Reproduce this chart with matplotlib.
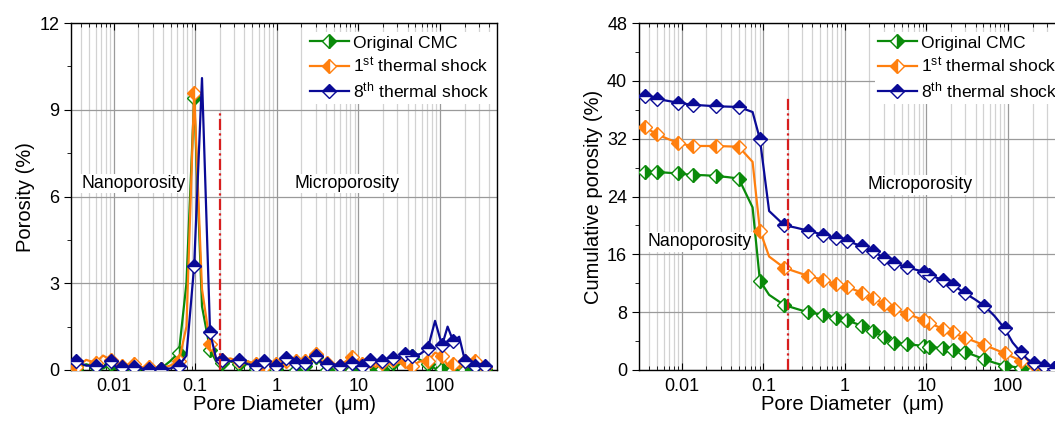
import numpy as np
import matplotlib
matplotlib.use('Agg')
import matplotlib.pyplot as plt
from matplotlib.ticker import FixedLocator, LogLocator, FuncFormatter, NullFormatter, MultipleLocator

plt.rcParams['font.family'] = ['Liberation Sans', 'DejaVu Sans']
plt.rcParams['mathtext.fontset'] = 'custom'
plt.rcParams['mathtext.rm'] = 'Liberation Sans'
plt.rcParams['mathtext.it'] = 'Liberation Sans:italic'

# ---- data: incremental porosity (left)
d_left = [0.0035, 0.0046, 0.0060, 0.0074, 0.0092, 0.0108, 0.0126, 0.0149, 0.0176, 0.022,
          0.027, 0.032, 0.038, 0.049, 0.063, 0.078, 0.097, 0.121, 0.152, 0.18,
          0.213, 0.27, 0.345, 0.44, 0.56, 0.63, 0.70, 0.83, 0.99, 1.14,
          1.31, 1.51, 1.74, 1.95, 2.19, 2.59, 3.06, 3.53, 4.07, 4.9,
          5.9, 7.0, 8.3, 9.6, 11.0, 12.3, 13.8, 16.3, 19.3, 22.6,
          26.4, 31.3, 37, 41, 45, 57, 71, 87, 106, 124,
          145, 172, 203, 234, 270, 311, 358, 410]
por_orig = [0.05, 0.2, 0.1, 0.05, 0.2, 0.0, 0.1, 0.05, 0.05, 0.1,
            0.05, 0.0, 0.05, 0.3, 0.6, 3.0, 9.4, 2.2, 0.7, 0.3,
            0.25, 0.3, 0.2, 0.3, 0.05, 0.15, 0.0, 0.2, 0.05, 0.25,
            0.35, 0.2, 0.0, 0.2, 0.15, 0.25, 0.45, 0.2, 0.0, 0.15,
            0.05, 0.2, 0.0, 0.2, 0.1, 0.0, 0.05, 0.0, 0.05, 0.15,
            0.25, 0.3, 0.35, 0.5, 0.5, 0.35, 0.2, 0.05, 0.05, 0.05,
            0.0, 0.1, 0.0, 0.05, 0.1, 0.05, 0.05, 0.0]
por_ts1 = [0.1, 0.35, 0.25, 0.5, 0.35, 0.2, 0.15, 0.1, 0.2, 0.1,
           0.1, 0.05, 0.05, 0.15, 0.3, 1.5, 9.6, 2.8, 0.9, 0.4,
           0.35, 0.4, 0.3, 0.3, 0.2, 0.25, 0.1, 0.3, 0.2, 0.3,
           0.3, 0.25, 0.3, 0.2, 0.3, 0.35, 0.55, 0.3, 0.25, 0.2,
           0.15, 0.3, 0.45, 0.35, 0.2, 0.15, 0.3, 0.1, 0.25, 0.2,
           0.35, 0.25, 0.3, 0.55, 0.15, 0.3, 0.3, 0.6, 0.5, 0.15,
           0.2, 0.05, 0.3, 0.2, 0.3, 0.1, 0.1, 0.0]
por_ts8 = [0.3, 0.15, 0.15, 0.1, 0.3, 0.1, 0.1, 0.05, 0.1, 0.05,
           0.05, 0.0, 0.05, 0.05, 0.15, 0.5, 3.6, 10.1, 1.3, 0.4,
           0.35, 0.3, 0.35, 0.2, 0.15, 0.15, 0.3, 0.2, 0.15, 0.2,
           0.4, 0.3, 0.25, 0.3, 0.25, 0.3, 0.5, 0.25, 0.2, 0.2,
           0.15, 0.2, 0.25, 0.3, 0.15, 0.2, 0.35, 0.3, 0.3, 0.3,
           0.4, 0.45, 0.55, 0.6, 0.5, 0.55, 0.75, 1.7, 0.85, 1.5,
           1.0, 1.15, 0.3, 0.15, 0.15, 0.2, 0.15, 0.0]

# ---- data: cumulative porosity (right)
d_right = [0.00356, 0.0042, 0.0050, 0.0067, 0.0089, 0.011, 0.0136, 0.019, 0.026, 0.036,
           0.050, 0.074, 0.091, 0.118, 0.18, 0.25, 0.35, 0.44, 0.54, 0.65,
           0.79, 0.91, 1.05, 1.31, 1.64, 1.9, 2.2, 2.6, 3.0, 3.5,
           4.0, 4.8, 5.8, 7.3, 9.3, 10.0, 10.8, 13.1, 15.9, 18.3,
           21, 25, 30, 39, 51, 68, 91, 114, 144, 173,
           208, 240, 277, 320, 370]
cum_orig = [27.4, 27.4, 27.4, 27.3, 27.2, 27.1, 27.0, 26.95, 26.85, 26.7,
            26.5, 22.5, 12.35, 10.4, 9.0, 8.5, 8.0, 7.8, 7.6, 7.45,
            7.25, 7.05, 6.9, 6.5, 6.1, 5.75, 5.4, 4.95, 4.5, 4.1,
            3.8, 3.7, 3.55, 3.45, 3.35, 3.25, 3.2, 3.1, 3.0, 2.9,
            2.75, 2.6, 2.5, 2.0, 1.5, 1.0, 0.6, 0.45, 0.3, 0.1,
            0.0, None, None, None, None]
cum_ts1 = [33.65, 33.1, 32.6, 32.0, 31.45, 31.2, 31.0, 31.0, 31.0, 30.95,
           30.9, 28.8, 19.3, 15.7, 14.15, 13.6, 13.05, 12.75, 12.45, 12.15,
           11.9, 11.7, 11.5, 11.1, 10.7, 10.35, 10.0, 9.55, 9.1, 8.75,
           8.4, 8.1, 7.8, 7.35, 6.9, 6.7, 6.55, 6.1, 5.7, 5.45,
           5.2, 4.8, 4.45, 3.95, 3.45, 2.9, 2.3, 1.8, 1.3, 1.0,
           0.7, 0.45, 0.25, 0.1, 0.0]
cum_ts8 = [37.9, 37.7, 37.5, 37.25, 37.0, 36.85, 36.7, 36.6, 36.5, 36.45,
           36.4, 35.7, 31.95, 22.0, 20.05, 19.7, 19.3, 19.0, 18.7, 18.45,
           18.2, 18.05, 17.9, 17.5, 17.1, 16.75, 16.4, 15.95, 15.5, 15.15,
           14.8, 14.5, 14.25, 13.9, 13.6, 13.4, 13.2, 12.8, 12.45, 12.1,
           11.75, 11.2, 10.6, 9.8, 8.9, 7.5, 5.75, 3.8, 2.45, 1.5,
           0.9, 0.75, 0.6, 0.45, 0.3]

labels = ['Original CMC', r'1$^{\mathrm{st}}$ thermal shock', r'8$^{\mathrm{th}}$ thermal shock']
colors = ['#0a8a0a', '#ff7f0e', '#0a0a96']
fills = ['right', 'left', 'top']
boundary = 0.2

fig = plt.figure(figsize=(10.55, 4.23), dpi=100)
ax1 = fig.add_axes([0.0673, 0.1253, 0.4038, 0.820])
ax2 = fig.add_axes([0.6057, 0.1253, 0.4038, 0.820])


def draw(ax, x, series, ymax, ystep, line_top, nano_xy, micro_xy, ylabel):
    for y, lab, c, fs in zip(series, labels, colors, fills):
        y = np.array([np.nan if v is None else v for v in y], dtype=float)
        ax.plot(x, y, color=c, lw=1.6, marker='D', ms=7, mew=1.0,
                fillstyle=fs, markerfacecolor=c, markerfacecoloralt='white',
                markeredgecolor=c, markevery=2, label=lab, zorder=3)
    ax.plot([boundary, boundary], [0, line_top], color='#d81e1e', lw=1.6,
            ls=(0, (5, 1.5, 1, 1.5)), zorder=4)
    ax.set_xscale('log')
    ax.set_xlim(0.003, 500)
    ax.set_ylim(0, ymax)
    ax.xaxis.set_major_locator(FixedLocator([0.01, 0.1, 1, 10, 100]))
    ax.xaxis.set_major_formatter(FuncFormatter(lambda v, p: '%g' % v))
    ax.xaxis.set_minor_locator(LogLocator(base=10, subs=np.arange(2, 10), numticks=20))
    ax.xaxis.set_minor_formatter(NullFormatter())
    ax.yaxis.set_major_locator(MultipleLocator(ystep))
    ax.yaxis.set_minor_locator(MultipleLocator(ystep / 2))
    ax.tick_params(axis='x', which='both', direction='in', top=True, bottom=True, labelsize=13)
    ax.tick_params(axis='x', which='major', length=5, pad=6)
    ax.tick_params(axis='x', which='minor', length=3)
    ax.tick_params(axis='y', which='both', direction='out', right=False, labelsize=13)
    ax.tick_params(axis='y', which='major', length=5)
    ax.tick_params(axis='y', which='minor', length=3)
    ax.grid(True, which='major', color='#9a9a9a', lw=0.9)
    ax.grid(True, which='minor', axis='x', color='#d2d2d2', lw=0.9)
    ax.set_axisbelow(True)
    for s in ax.spines.values():
        s.set_linewidth(1.0)
    box = dict(facecolor='white', edgecolor='none', pad=1.0)
    ax.text(nano_xy[0], nano_xy[1], 'Nanoporosity', ha='center', va='center', fontsize=12.7, bbox=box, zorder=2)
    ax.text(micro_xy[0], micro_xy[1], 'Microporosity', ha='center', va='center', fontsize=12.7, bbox=box, zorder=2)
    ax.set_xlabel('Pore Diameter  (\u03bcm)', fontsize=14.5, labelpad=0)
    ax.set_ylabel(ylabel, fontsize=14.5, labelpad=3)
    leg = ax.legend(loc='upper right', bbox_to_anchor=(0.99, 0.975), fontsize=12.6,
                    frameon=True, fancybox=False, framealpha=1, edgecolor='none',
                    handlelength=2.2, handletextpad=0.25, labelspacing=0.3,
                    borderaxespad=0.0, borderpad=0.2)
    leg.set_zorder(5)


draw(ax1, d_left, [por_orig, por_ts1, por_ts8], 12, 3, 8.9,
     (0.0176, 6.45), (7.2, 6.45), 'Porosity (%)')
draw(ax2, d_right, [cum_orig, cum_ts1, cum_ts8], 48, 8, 37.8,
     (0.0165, 17.75), (8.4, 25.65), 'Cumulative porosity (%)')

fig.savefig('out.png', dpi=100)
